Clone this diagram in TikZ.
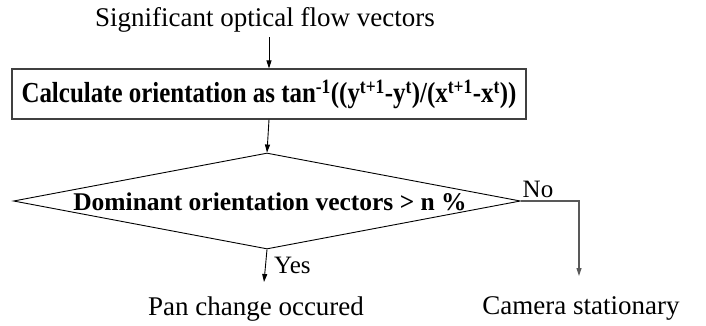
\documentclass[tikz,border=0pt]{standalone}
\usepackage{fontspec}
\setmainfont{Liberation Serif}
\usetikzlibrary{arrows.meta,shapes.geometric}
\begin{document}
\begin{tikzpicture}[x=1pt,y=-1pt,
  lbl/.style={inner sep=0pt,font=\fontsize{27}{30}\selectfont},
  small/.style={inner sep=0pt,font=\fontsize{25}{28}\selectfont},
  arr/.style={-{Triangle[length=8pt,width=5pt]},line width=0.9pt,black},
  procbox/.style={draw=black!75,line width=1.2pt,rectangle,minimum width=514pt,minimum height=50pt,inner sep=0pt},
  decision/.style={draw=black,line width=0.9pt,diamond,minimum width=507pt,minimum height=96pt,inner sep=0pt,aspect=5.3},
  noline/.style={draw=black!65,line width=1.1pt}]
  \useasboundingbox (0,0) rectangle (706,325);
  % input
  \node[lbl,anchor=base] (src) at (265,26) {Significant optical flow vectors};
  % processing step
  \node[procbox] (calc) at (269,94) {\fontsize{29}{32}\selectfont\bfseries\scalebox{0.86}[1]{Calculate orientation as tan\textsuperscript{-1}((y\textsuperscript{t+1}-y\textsuperscript{t})/(x\textsuperscript{t+1}-x\textsuperscript{t}))}};
  % decision
  \node[decision] (dec) at (267,201) {};
  \node[inner sep=0pt,anchor=base,font=\fontsize{25.5}{28}\selectfont\bfseries] (dectext) at (270,210) {Dominant orientation vectors > n \%};
  % outcomes
  \node[lbl,anchor=base] (pan) at (256,315) {Pan change occured};
  \node[lbl,anchor=base] (cam) at (581,314) {Camera stationary};
  \coordinate (yesend) at (264,282);
  \coordinate (nocorner) at (579,208);
  \coordinate (noend) at (579,276);
  % connectors
  \draw[arr] (src.south -| calc.north) ++(0,5) coordinate (srcout) -- (srcout |- calc.north);
  \draw[arr] (calc.south) -- (dec.north);
  \draw[arr] (dec.south) -- (yesend);
  \draw[noline,-{Triangle[length=8pt,width=5pt]}] (dec.east) -- (dec.east -| nocorner) -- (noend);
  % branch labels
  \node[small,anchor=base west] (yes) at (274,273) {Yes};
  \node[small,anchor=base] (no) at (538,197) {No};
\end{tikzpicture}
\end{document}
